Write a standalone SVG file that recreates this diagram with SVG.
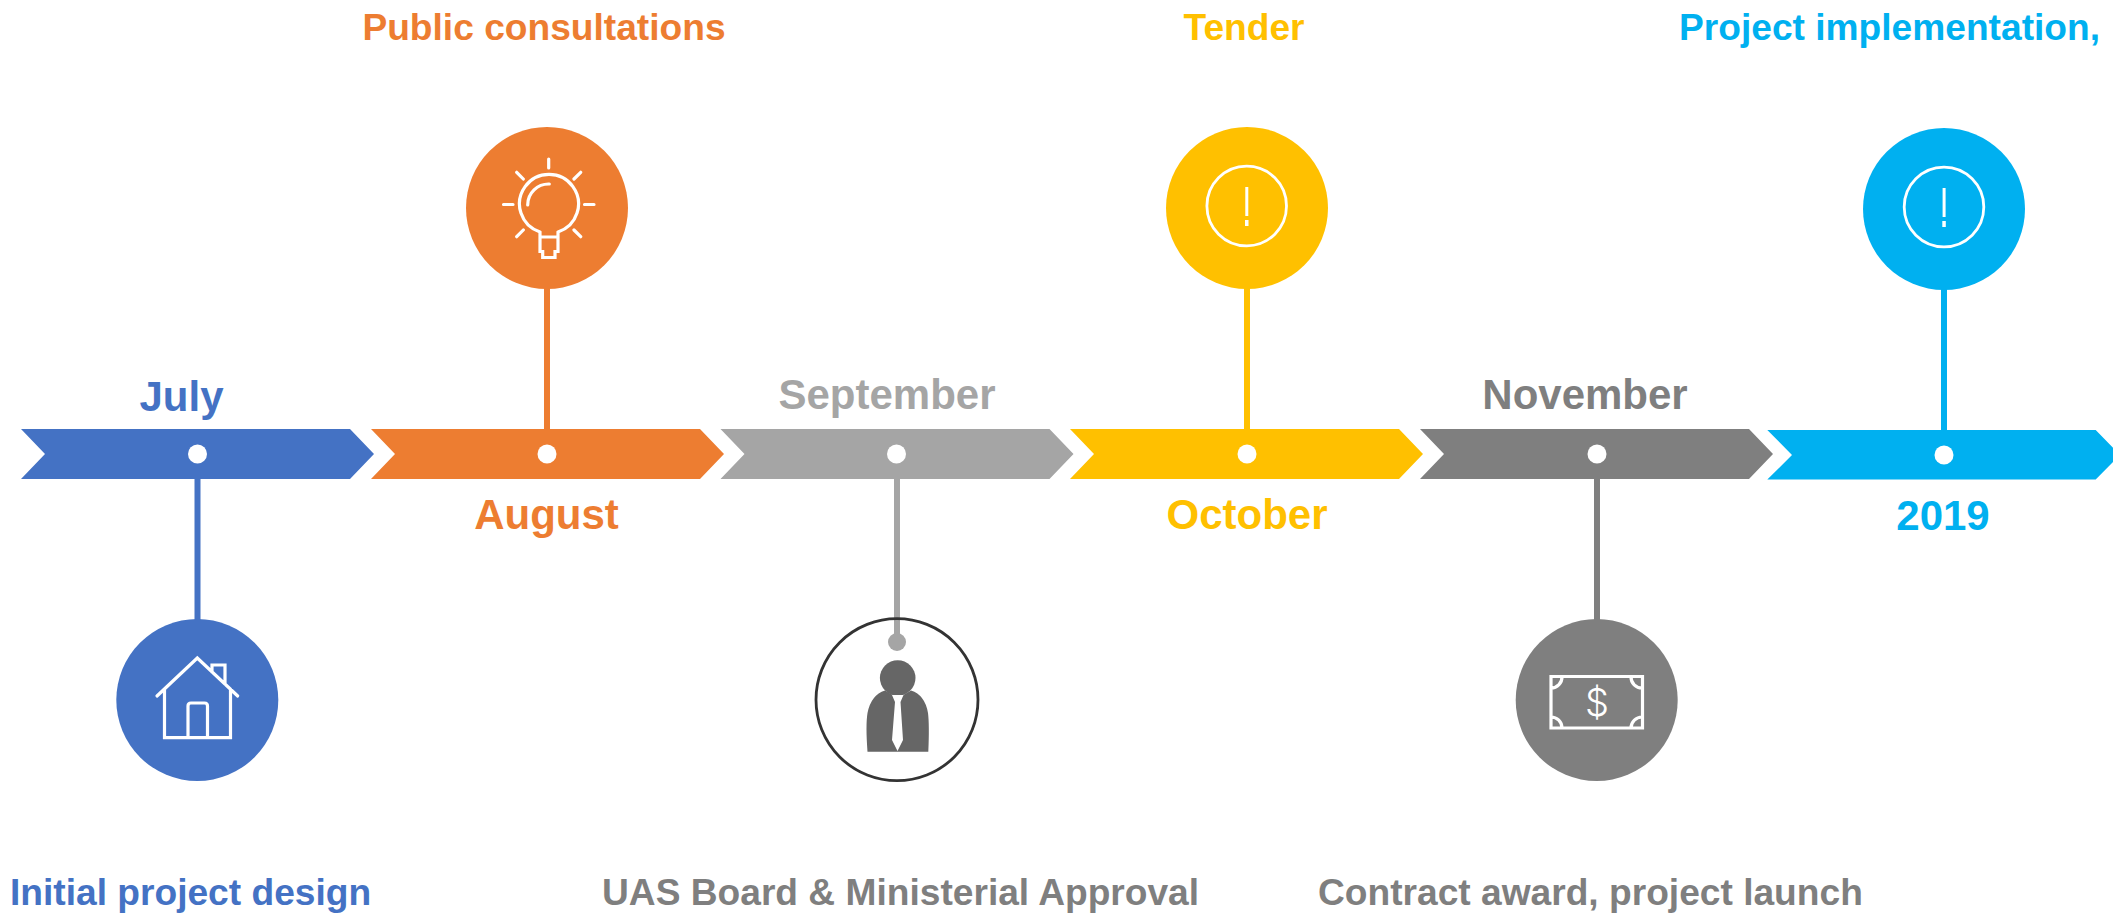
<svg xmlns="http://www.w3.org/2000/svg" width="2113" height="917" viewBox="0 0 2113 917">
<style>
text{font-family:"Liberation Sans",Arial,sans-serif;font-weight:700;font-size:37.15px}
text.big{font-size:42px}
.ic{fill:none;stroke:#fff;stroke-width:3.2;stroke-linecap:round}
.dot{fill:#fff}
.c{stroke-width:6;fill:none}
.m{text-anchor:middle}
</style>
<defs>
<path id="chev" d="M0 0H329L353 25 329 50H0L24 25Z"/>
</defs>
<rect width="2113" height="917" fill="#fff"/>
<g id="connectors">
<path class="c" stroke="#4472C4" d="M197.5 475V622"/>
<path class="c" stroke="#ED7D31" d="M547 287V433"/>
<path class="c" stroke="#A5A5A5" d="M897 475V642"/>
<path class="c" stroke="#FFC000" d="M1247 287V433"/>
<path class="c" stroke="#7F7F7F" d="M1597 475V622"/>
<path class="c" stroke="#00B0F0" d="M1944 288V433"/>
</g>
<g id="july">
<use href="#chev" x="21" y="429" fill="#4472C4"/>
<circle class="dot" cx="197.5" cy="454" r="9.5"/>
<text class="m big" x="181.5" y="411" fill="#4472C4">July</text>
<circle cx="197.3" cy="700" r="81" fill="#4472C4"/>
<path class="ic" d="M157 696 197.3 658 237.7 696M164.5 689V737.7H230.5V689M188 737.7V706Q188 703 191 703H204.5Q207.5 703 207.5 706V737.7M212 672V665H225V684"/>
<text x="10" y="904.5" fill="#4472C4">Initial project design</text>
</g>
<g id="august">
<use href="#chev" x="371" y="429" fill="#ED7D31"/>
<circle class="dot" cx="547" cy="454" r="9.5"/>
<text class="m big" x="546.5" y="529" fill="#ED7D31">August</text>
<circle cx="547" cy="208" r="81" fill="#ED7D31"/>
<path class="ic" d="M548.7 159V168M503.5 204.5H513M584.5 204.5H594M516.7 172.3 523.3 179M580.7 172.3 574 179M516.7 236.7 523.3 230M580.7 236.7 574 230M540 232A29.5 29.5 0 1 1 558 232M540 232V251.5H542.7V257.5H555V251.5H558V232M540 237H558M527.7 205A21 21 0 0 1 549.3 184"/>
<text class="m" x="544" y="40" fill="#ED7D31">Public consultations</text>
</g>
<g id="september">
<use href="#chev" x="720.5" y="429" fill="#A5A5A5"/>
<circle class="dot" cx="896.5" cy="454" r="9.5"/>
<text class="m big" x="887" y="409" fill="#A5A5A5">September</text>
<circle cx="897" cy="699.7" r="81" fill="none" stroke="#333" stroke-width="2.8"/>
<circle cx="897" cy="642" r="9" fill="#A5A5A5"/>
<path fill="#666" d="M867.5 751.7Q865.5 725 867.5 713 871 695 885 690.5L896 697H900L911 690.5Q925 695 928 713 929.5 725 928.3 751.7Z"/>
<circle cx="897.7" cy="678" r="17.8" fill="#666"/>
<path fill="#fff" d="M892 695H903.5L900.5 702 903 740 897.5 751 892 740 895 702Z"/>
<text x="602" y="904.5" fill="#7F7F7F">UAS Board &amp; Ministerial Approval</text>
</g>
<g id="october">
<use href="#chev" x="1070" y="429" fill="#FFC000"/>
<circle class="dot" cx="1247" cy="454" r="9.5"/>
<text class="m big" x="1247" y="529" fill="#FFC000">October</text>
<circle cx="1247" cy="208" r="81" fill="#FFC000"/>
<circle cx="1246.7" cy="206" r="39.8" fill="none" stroke="#fff" stroke-width="2.8"/>
<path fill="#fff" d="M1245.3 187H1248.3V216H1245.3ZM1245 220H1248.5V226H1245Z"/>
<text class="m" x="1244" y="40" fill="#FFC000">Tender</text>
</g>
<g id="november">
<use href="#chev" x="1420" y="429" fill="#7F7F7F"/>
<circle class="dot" cx="1597" cy="454" r="9.5"/>
<text class="m big" x="1585" y="409" fill="#7F7F7F">November</text>
<circle cx="1596.7" cy="700" r="81" fill="#7F7F7F"/>
<path class="ic" stroke-linecap="butt" d="M1551 676.5H1642.5V728H1551ZM1551 688A11 11 0 0 0 1562 676.5M1631 676.5A11 11 0 0 0 1642.5 688M1551 717A11 11 0 0 1 1562 728M1631 728A11 11 0 0 1 1642.5 717"/>
<text class="m" x="1597" y="716" fill="#fff" style="font-family:'Inter','Liberation Sans',sans-serif;font-weight:300;font-size:38px">$</text>
<text x="1318" y="904.5" fill="#7F7F7F">Contract award, project launch</text>
</g>
<g id="y2019">
<path fill="#00B0F0" d="M1767.3 430H2095.7L2120 455 2095.7 479.5H1767.3L1792 455Z"/>
<circle class="dot" cx="1944" cy="455" r="9.5"/>
<text class="m big" x="1943" y="530" fill="#00B0F0">2019</text>
<circle cx="1944" cy="209" r="81" fill="#00B0F0"/>
<circle cx="1944" cy="207" r="39.8" fill="none" stroke="#fff" stroke-width="2.8"/>
<path fill="#fff" d="M1942.6 188H1945.6V217H1942.6ZM1942.3 221H1945.8V227H1942.3Z"/>
<text x="1679" y="40" fill="#00B0F0">Project implementation,</text>
</g>
</svg>
